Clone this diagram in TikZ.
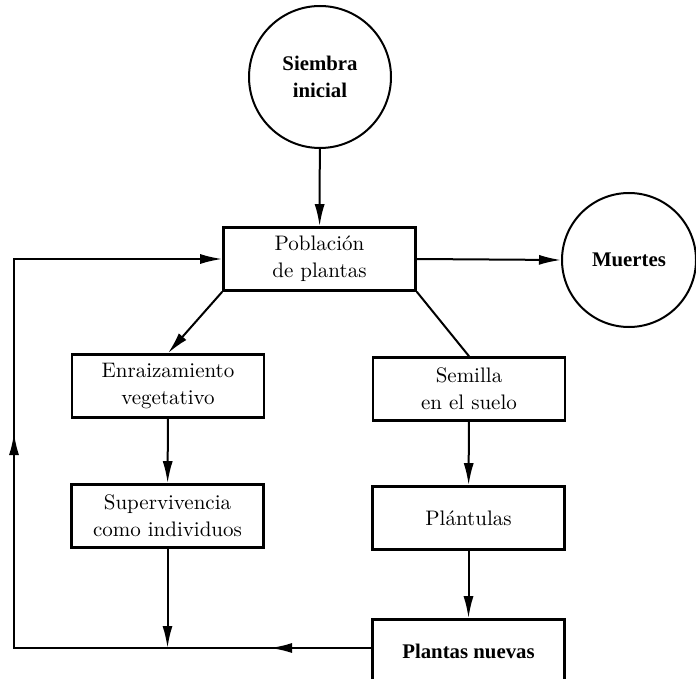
\documentclass[tikz,border=0pt]{standalone}
\usepackage{fontspec}
\newfontfamily\negrita{Liberation Serif}
\usetikzlibrary{arrows.meta}
\tikzset{
  caja/.style={draw, line width=1.3pt, minimum width=96pt, minimum height=31.5pt,
    inner sep=0pt, align=center, font=\fontsize{10.5}{13.5}\selectfont},
  circulo/.style={draw, circle, line width=1pt, inner sep=0pt, align=center,
    font=\negrita\fontsize{10.4}{13.5}\selectfont\bfseries},
  flecha/.style={line width=1pt, -{Latex[length=11pt,width=5pt]}},
  linea/.style={line width=1pt}
}
\begin{document}
\begin{tikzpicture}[x=0.5pt, y=-0.5pt, line join=miter]
  % marco
  \useasboundingbox (0,0) rectangle (696,679);

  % fuentes y perdidas
  \node[circulo, minimum size=71pt] (siembra) at (320,77) {Siembra\\inicial};
  \node[caja] (pob) at (319.5,259) {Población\\de plantas};
  \node[circulo, minimum size=67pt] (muertes) at (629,260) {Muertes};

  % rama vegetativa
  \node[caja] (enr) at (168,386) {Enraizamiento\\vegetativo};
  \node[caja] (sup) at (167.5,516) {Supervivencia\\como individuos};

  % rama por semilla
  \node[caja] (sem) at (469,389) {Semilla\\en el suelo};
  \node[caja] (plan) at (468.5,518) {Plántulas};
  \node[caja, font=\negrita\fontsize{10.4}{13.5}\selectfont\bfseries] (nue) at (468.5,651) {Plantas nuevas};

  % esquinas del lazo de retorno
  \coordinate (ei) at (14,648);
  \coordinate (es) at (14,259);
  \coordinate (mi) at (270,648);
  \coordinate (mv) at (14,433);
  \coordinate (union) at (sup.south |- ei);

  % conexiones
  \draw[flecha] (siembra) -- (pob);
  \draw[flecha] (pob.east) -- (muertes.west);
  \draw[flecha] (pob.south west) -- (enr.north);
  \draw[linea] (pob.south east) -- (sem.north);
  \draw[flecha] (enr) -- (sup);
  \draw[flecha] (sem) -- (plan);
  \draw[flecha] (plan) -- (nue);
  \draw[flecha] (sup) -- (union);

  % lazo de retorno
  \draw[flecha] (nue.west |- ei) -- (ei) -- (es) -- (pob.west);
  \draw[flecha] (nue.west |- ei) -- (mi);
  \draw[flecha] (ei) -- (mv);
\end{tikzpicture}
\end{document}
